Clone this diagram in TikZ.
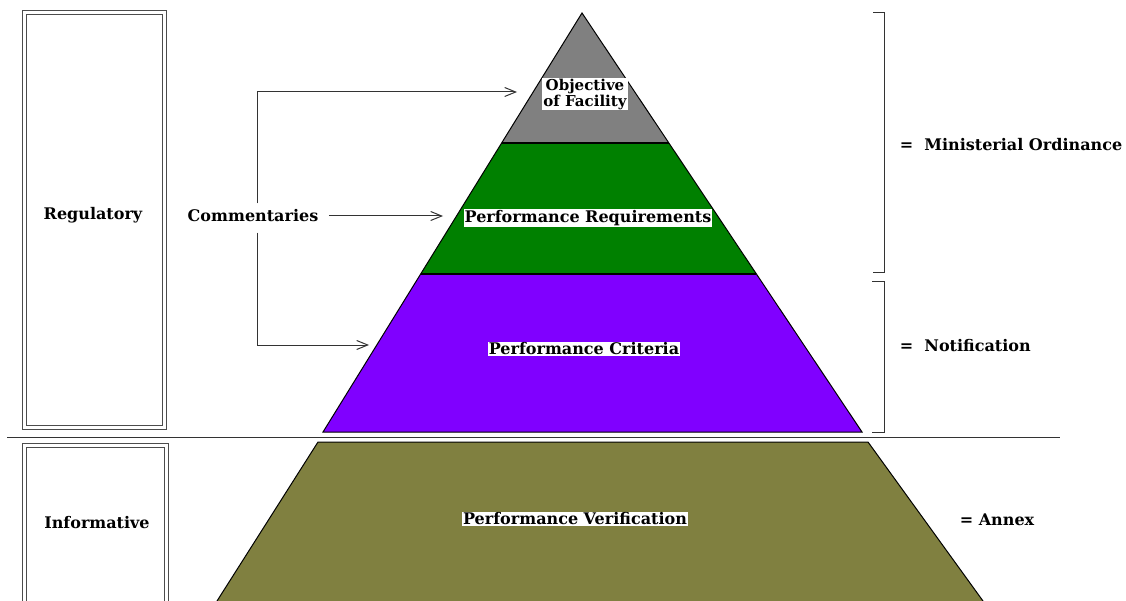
\documentclass[tikz,border=0pt]{standalone}
\usepackage{fontspec}
\setmainfont{DejaVu Serif}
\usetikzlibrary{arrows.meta}

\begin{document}
\begin{tikzpicture}[x=1pt, y=-1pt, line width=1pt,
    font=\bfseries\fontsize{16}{18}\selectfont,
    frame/.style={draw=black!70, double, double distance=3pt},
    layer/.style={draw=black, line width=1pt},
    tag/.style={fill=white, inner sep=1pt},
    arr/.style={draw=black!80, -{Straight Barb[length=11pt, width=9pt]}}]
    % --- Colores ---
    \definecolor{objgray}{HTML}{808080}  \definecolor{reqgreen}{HTML}{008000}
    \definecolor{critviolet}{HTML}{8000FF} \definecolor{verolive}{HTML}{808040}

    \useasboundingbox (0,0) rectangle (1126,601);

    % --- Cajas de la izquierda ---
    \draw[frame] (24,13) rectangle (164,427);
    \draw[frame] (24,445) rectangle (166,640);
    \node (regul) at (93,215) {Regulatory};
    \node (inform) at (97,523) {Informative};

    % --- Separador ---
    \draw[black!80] (7,437) -- (1060,437);

    % --- Piramide ---
    \fill[objgray] (582,13) -- (668.8,143) -- (501.7,143) -- cycle;
    \fill[reqgreen] (501.7,143) -- (668.8,143) -- (756.3,274) -- (420.7,274) -- cycle;
    \fill[critviolet] (420.7,274) -- (756.3,274) -- (862,432) -- (323,432) -- cycle;
    \draw[layer] (582,13) -- (862,432) -- (323,432) -- cycle;
    \draw[layer, line width=1.5pt] (501.7,143) -- (668.8,143);
    \draw[layer, line width=1.5pt] (420.7,274) -- (756.3,274);

    % --- Base: verificacion ---
    \fill[verolive] (318,442) -- (868,442) -- (983,601) -- (217,601) -- cycle;
    \draw[layer] (217,601) -- (318,442) -- (868,442) -- (983,601);

    % --- Etiquetas de los niveles ---
    \node[tag, align=center, font=\bfseries\fontsize{15}{16}\selectfont] (obj) at (585,94) {Objective\\of Facility};
    \node[tag] (req) at (588,218) {Performance Requirements};
    \node[tag] (crit) at (584,349) {Performance Criteria};
    \node[tag] (ver) at (575,519) {Performance Verification};

    % --- Comentarios y flechas ---
    \node[inner sep=6pt] (comm) at (253,216) {Commentaries};
    \coordinate (objtip) at (517,92);
    \coordinate (reqtip) at (443,216);
    \coordinate (crittip) at (369,345);
    \draw[arr] ([xshift=4pt]comm.north) |- (objtip);
    \draw[arr, shorten <=4pt] (comm.east) -- (comm.east -| reqtip);
    \draw[arr, shorten <=4pt] ([xshift=4pt]comm.south) |- (crittip);

    % --- Llaves de la derecha ---
    \draw[black!80] (873,13) -- (884,13) -- (884,273) -- (873,273);
    \draw[black!80] (872,282) -- (884,282) -- (884,432) -- (872,432);
    \node[anchor=west] (ordin) at (896,145) {=\ \ Ministerial Ordinance};
    \node[anchor=west] (notif) at (896,346) {=\ \ Notification};
    \node[anchor=west] (annex) at (956,520) {= Annex};
\end{tikzpicture}
\end{document}
